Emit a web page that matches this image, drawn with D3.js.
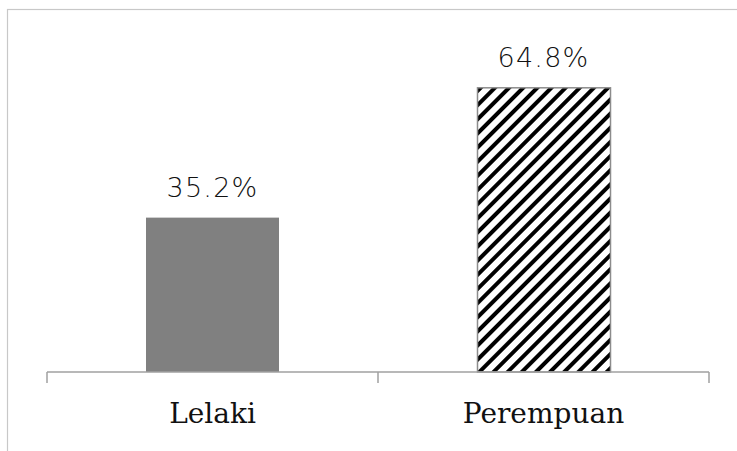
<!DOCTYPE html>
<html lang="id">
<head>
<meta charset="UTF-8">
<title>Lelaki vs Perempuan</title>
<script src="https://d3js.org/d3.v7.min.js"></script>
<style>
  html, body { margin: 0; padding: 0; background: #fff; }
  svg { display: block; }
</style>
</head>
<body>
<div id="chart"></div>
<script>
// data
const categories = ["Lelaki", "Perempuan"];
const values = [35.2, 64.8];
const valueLabels = ["35.2%", "64.8%"];

const W = 737, H = 451;
const axisY = 372;

const svg = d3.select("#chart").append("svg")
  .attr("width", W)
  .attr("height", H);

// hatch pattern for the second bar
const defs = svg.append("defs");
const pat = defs.append("pattern")
  .attr("id", "hatch")
  .attr("patternUnits", "userSpaceOnUse")
  .attr("width", 10)
  .attr("height", 10)
  .attr("patternTransform", "rotate(45)");
pat.append("rect").attr("width", 10).attr("height", 10).attr("fill", "#fff");
pat.append("rect").attr("x", 0).attr("y", 0).attr("width", 4).attr("height", 10).attr("fill", "#000");

// outer frame
svg.append("rect")
  .attr("x", 7.5).attr("y", 9.5)
  .attr("width", W + 20).attr("height", H + 20)
  .attr("fill", "none")
  .attr("stroke", "#c8c8c8")
  .attr("stroke-width", 1.2);

const x = d3.scaleBand()
  .domain(categories)
  .range([47, 709])
  .paddingInner(0)
  .paddingOuter(0);

const y = d3.scaleLinear()
  .domain([0, 70])
  .range([axisY, 65]);

const barW = 133;

// bars
svg.selectAll(".bar")
  .data(categories)
  .enter()
  .append("rect")
  .attr("class", "bar")
  .attr("x", (d, i) => x(d) + x.bandwidth() / 2 - barW / 2 + (i === 1 ? 0.5 : 0))
  .attr("y", (d, i) => y(values[i]))
  .attr("width", barW)
  .attr("height", (d, i) => axisY - y(values[i]))
  .attr("fill", (d, i) => i === 0 ? "#808080" : "url(#hatch)")
  .attr("stroke", (d, i) => i === 0 ? "none" : "#8c8c8c")
  .attr("stroke-width", 1.5);

// x axis
const axis = svg.append("g")
  .attr("transform", `translate(0,${axisY})`)
  .call(d3.axisBottom(x).tickSize(0).tickFormat(""));
axis.select(".domain").remove();

svg.append("line")
  .attr("x1", 47).attr("x2", 709)
  .attr("y1", axisY).attr("y2", axisY)
  .attr("stroke", "#a0a0a0").attr("stroke-width", 1.5);

// tick marks at band edges
const edges = [x.range()[0]].concat(categories.map(c => x(c) + x.bandwidth()));
svg.selectAll(".tick-edge")
  .data(edges)
  .enter()
  .append("line")
  .attr("x1", d => d).attr("x2", d => d)
  .attr("y1", axisY).attr("y2", axisY + 11)
  .attr("stroke", "#a0a0a0").attr("stroke-width", 1.5);

// category labels
svg.selectAll(".cat")
  .data(categories)
  .enter()
  .append("text")
  .attr("x", d => x(d) + x.bandwidth() / 2)
  .attr("y", 423)
  .attr("text-anchor", "middle")
  .attr("font-family", "'DejaVu Serif', serif")
  .attr("font-size", 28)
  .attr("fill", "#111")
  .text(d => d);

// value labels
svg.selectAll(".val")
  .data(categories)
  .enter()
  .append("text")
  .attr("x", d => x(d) + x.bandwidth() / 2)
  .attr("y", (d, i) => y(values[i]) - 21)
  .attr("text-anchor", "middle")
  .attr("font-family", "'DejaVu Sans', sans-serif")
  .attr("font-size", 27)
  .attr("font-weight", 300)
  .attr("letter-spacing", 1.2)
  .attr("fill", "#111")
  .text((d, i) => valueLabels[i]);
</script>
</body>
</html>
